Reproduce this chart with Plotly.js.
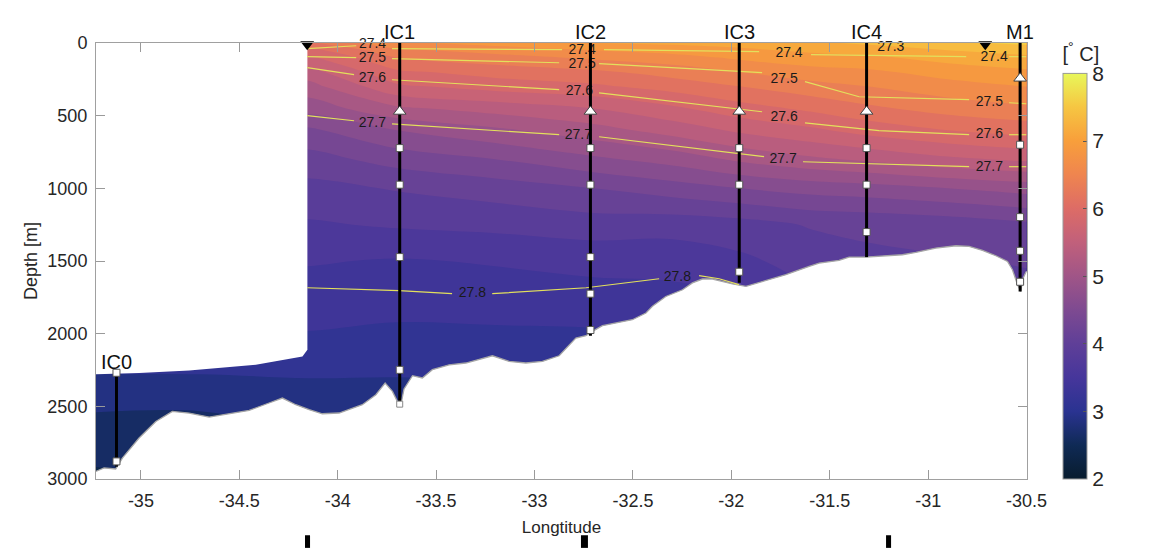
<!DOCTYPE html>
<html><head><meta charset="utf-8">
<script src="https://cdn.plot.ly/plotly-3.0.1.min.js"></script>
<style>html,body{margin:0;padding:0;background:#fff;}#chart{width:1152px;height:548px;}</style>
</head><body><div id="chart"></div>
<script>
// ---- temperature section (°C) ----
const lonGrid = [-35.23, -34.7, -34.15, -33.7, -33.2, -32.7, -32.3, -31.95, -31.6, -31.3, -30.9, -30.5];
const depthGrid = [0, 50, 100, 200, 300, 450, 600, 800, 1000, 1250, 1500, 1750, 2000, 2250, 2500, 2750, 3000];
const tempGrid = [
  [6.2, 6.2, 6.2, 6.7, 6.85, 7.0, 7.05, 7.1, 7.2, 7.3, 7.45, 7.55],
  [5.9, 5.9, 5.9, 6.45, 6.6, 6.75, 6.85, 6.95, 7.05, 7.1, 7.25, 7.35],
  [5.7, 5.7, 5.7, 6.25, 6.4, 6.55, 6.65, 6.8, 6.9, 6.95, 7.1, 7.2],
  [5.4, 5.4, 5.4, 5.95, 6.1, 6.2, 6.35, 6.5, 6.65, 6.7, 6.85, 6.95],
  [5.15, 5.15, 5.15, 5.7, 5.85, 5.95, 6.1, 6.25, 6.4, 6.5, 6.65, 6.75],
  [4.85, 4.85, 4.85, 5.2, 5.35, 5.5, 5.7, 5.9, 6.05, 6.2, 6.35, 6.45],
  [4.45, 4.45, 4.45, 4.75, 4.95, 5.15, 5.35, 5.55, 5.7, 5.85, 6.0, 6.1],
  [4.15, 4.15, 4.15, 4.35, 4.5, 4.7, 4.85, 5.05, 5.2, 5.3, 5.45, 5.55],
  [3.92, 3.92, 3.92, 4.02, 4.12, 4.25, 4.38, 4.5, 4.6, 4.65, 4.75, 4.85],
  [3.72, 3.72, 3.72, 3.78, 3.82, 3.88, 3.85, 3.9, 4.02, 4.05, 4.1, 4.2],
  [3.52, 3.52, 3.52, 3.48, 3.52, 3.58, 3.6, 3.7, 3.85, 3.95, 3.98, 4.02],
  [3.38, 3.38, 3.38, 3.36, 3.38, 3.4, 3.42, 3.5, 3.7, 3.85, 3.9, 3.92],
  [3.24, 3.24, 3.24, 3.2, 3.21, 3.22, 3.25, 3.3, 3.5, 3.7, 3.8, 3.85],
  [3.03, 3.03, 3.05, 3.04, 3.05, 3.05, 3.08, 3.1, 3.3, 3.5, 3.6, 3.7],
  [2.78, 2.77, 2.83, 2.84, 2.88, 2.9, 2.9, 2.95, 3.1, 3.3, 3.4, 3.5],
  [2.6, 2.62, 2.7, 2.72, 2.78, 2.8, 2.8, 2.85, 2.95, 3.1, 3.2, 3.3],
  [2.45, 2.5, 2.6, 2.65, 2.7, 2.7, 2.7, 2.75, 2.85, 2.95, 3.0, 3.1]
];

// ---- bathymetry (m) ----
const bathyLon = [-35.229,-35.187,-35.128,-35.094,-35.009,-34.924,-34.840,-34.755,-34.653,-34.586,-34.450,-34.349,-34.281,-34.213,-34.145,-34.078,-33.993,-33.875,-33.806,-33.759,-33.722,-33.697,-33.679,-33.663,-33.620,-33.570,-33.519,-33.434,-33.349,-33.214,-33.129,-33.044,-32.960,-32.875,-32.790,-32.739,-32.706,-32.655,-32.587,-32.503,-32.434,-32.401,-32.333,-32.248,-32.198,-32.147,-32.096,-32.028,-31.994,-31.926,-31.842,-31.723,-31.605,-31.554,-31.453,-31.402,-31.317,-31.232,-31.131,-31.063,-30.961,-30.859,-30.792,-30.724,-30.656,-30.597,-30.572,-30.546,-30.529,-30.521,-30.502];
const bathyDepth = [2948,2924,2931,2856,2718,2604,2535,2546,2574,2558,2528,2477,2443,2489,2523,2551,2546,2489,2420,2340,2397,2466,2489,2380,2289,2305,2248,2214,2202,2152,2191,2202,2191,2152,2030,2014,1984,1945,1927,1904,1858,1812,1744,1698,1651,1624,1624,1647,1658,1675,1640,1594,1537,1514,1496,1473,1473,1464,1457,1441,1411,1395,1400,1427,1464,1503,1560,1663,1709,1629,1572];

// ---- no-data region (west, upper) ----
const gapLon = [-35.3, -34.154, -34.154, -34.179, -34.416, -34.755, -35.009, -35.229, -35.3];
const gapDepth = [-80, -80, 2110, 2157, 2214, 2253, 2271, 2282, 2282];

// ---- isopycnals (kg m^-3 - 1000) ----
const iso274Lon = [-34.155,-33.906,null,-33.724,-32.86,null,-32.647,-31.859,null,-31.595,-30.807,null,-30.589,-30.502];
const iso274Depth = [39,19,null,39,46,null,46,60,null,80,94,null,94,94];
const iso275Lon = [-34.155,-33.906,null,-33.724,-32.875,null,-32.672,-31.844,null,-31.626,-31.351,-30.792,null,-30.589,-30.502];
const iso275Depth = [94,101,null,108,136,null,142,204,null,266,370,390,null,411,418];
const iso276Lon = [-34.155,-33.917,null,-33.724,-32.875,null,-32.672,-31.844,null,-31.626,-31.25,-30.792,null,-30.589,-30.502];
const iso276Depth = [170,218,null,253,321,null,343,473,null,549,603,631,null,631,631];
const iso277Lon = [-34.155,-33.917,null,-33.724,-32.875,null,-32.672,-31.834,null,-31.636,-30.792,null,-30.589,-30.502];
const iso277Depth = [500,535,null,556,631,null,645,782,null,817,851,null,851,851];
const iso278Lon = [-34.155,-33.688,-33.419,null,-33.215,-32.738,-32.367,null,-32.164,-32.062,-31.961];
const iso278Depth = [1684,1704,1725,null,1725,1684,1622,null,1601,1622,1663];
const isoLabelText = ['27.4','27.4','27.4','27.4','27.3','27.5','27.5','27.5','27.5','27.6','27.6','27.6','27.6','27.7','27.7','27.7','27.7','27.8','27.8'];
const isoLabelLon = [-33.823,-32.758,-31.707,-30.665,-31.19,-33.824,-32.758,-31.732,-30.689,-33.824,-32.772,-31.732,-30.689,-33.824,-32.777,-31.737,-30.689,-33.316,-32.274];
const isoLabelDepth = [12,53,74,101,32,110,150,253,409,246,337,516,631,551,638,803,860,1727,1613];

// ---- moorings ----
const mooringNames = ['IC0','IC1','IC2','IC3','IC4','M1'];
const mooringLon = [-35.124,-33.685,-32.716,-31.96,-31.313,-30.533];
const mooringTop = [2269,0,0,0,0,0];
const mooringBottom = [2915,2490,2015,1650,1473,1710];
const triLon = [-33.685,-32.716,-31.96,-31.313,-30.533];
const triDepth = [471,471,471,471,243];
const sqLon = [-35.124,-35.124,-33.685,-33.685,-33.685,-33.685,-32.716,-32.716,-32.716,-32.716,-32.716,-31.96,-31.96,-31.96,-31.313,-31.313,-31.313,-30.533,-30.533,-30.533,-30.533];
const sqDepth = [2269,2879,723,975,1473,2249,723,975,1473,1725,1975,723,975,1574,723,975,1301,700,1198,1430,1643];
const stationLon = [-34.155,-30.71];
const stationDepth = [8,8];

const xTicks = [-35,-34.5,-34,-33.5,-33,-32.5,-32,-31.5,-31,-30.5];
const xTickText = ['-35','-34.5','-34','-33.5','-33','-32.5','-32','-31.5','-31','-30.5'];
const yTicks = [0,500,1000,1500,2000,2500,3000];
const cbTicks = [2,3,4,5,6,7,8];

const thermal = [
  [0.0,'#081c2e'],[0.0833,'#0f2a55'],[0.1667,'#2a3391'],[0.25,'#46369b'],[0.3333,'#5f3f98'],
  [0.4167,'#7e4a91'],[0.5,'#a05587'],[0.5833,'#c1607b'],[0.6667,'#dd6c66'],[0.75,'#ef854f'],
  [0.8333,'#f89f3b'],[0.9167,'#f6c642'],[1.0,'#e8f85a']
];

const FONT = 'Liberation Sans, Arial, Helvetica, sans-serif';
const traces = [];
traces.push({type:'contour', x:lonGrid, y:depthGrid, z:tempGrid, zmin:2, zmax:8,
  colorscale:thermal, showscale:false, hoverinfo:'skip',
  contours:{start:2, end:8, size:0.25, coloring:'fill', showlines:false}, line:{width:0}});
traces.push({type:'scatter', x:gapLon, y:gapDepth, mode:'lines', fill:'toself', fillcolor:'#ffffff',
  line:{width:0, color:'#ffffff'}, hoverinfo:'skip', showlegend:false});
const bFillLon = bathyLon.concat([-30.45, -30.45, -35.3, -35.3]);
const bFillDepth = bathyDepth.concat([1572, 3200, 3200, 2948]);
traces.push({type:'scatter', x:bFillLon, y:bFillDepth, mode:'lines', fill:'toself', fillcolor:'#ffffff',
  line:{width:0, color:'#ffffff'}, hoverinfo:'skip', showlegend:false});
traces.push({type:'scatter', x:bathyLon, y:bathyDepth, mode:'lines', line:{width:1.3, color:'#a6a6a6'},
  hoverinfo:'skip', showlegend:false});
[[iso274Lon,iso274Depth],[iso275Lon,iso275Depth],[iso276Lon,iso276Depth],[iso277Lon,iso277Depth],[iso278Lon,iso278Depth]].forEach(function(p){
  traces.push({type:'scatter', x:p[0], y:p[1], mode:'lines', connectgaps:false,
    line:{width:1.2, color:'#e3e05c'}, hoverinfo:'skip', showlegend:false});
});
traces.push({type:'scatter', x:isoLabelLon, y:isoLabelDepth, mode:'text', text:isoLabelText,
  textfont:{family:FONT, size:14, color:'#1a1a1a'}, cliponaxis:false, hoverinfo:'skip', showlegend:false});
mooringNames.forEach(function(n,i){
  traces.push({type:'scatter', x:[mooringLon[i],mooringLon[i]], y:[mooringTop[i],mooringBottom[i]], mode:'lines',
    line:{width:3, color:'#000000'}, hoverinfo:'skip', showlegend:false});
});
traces.push({type:'scatter', x:sqLon, y:sqDepth, mode:'markers',
  marker:{symbol:'square', size:7, color:'#ffffff', line:{width:1, color:'#555555'}}, hoverinfo:'skip', showlegend:false});
traces.push({type:'scatter', x:[-33.685], y:[2485], mode:'markers',
  marker:{symbol:'square', size:6, color:'#ffffff', line:{width:1, color:'#888888'}}, hoverinfo:'skip', showlegend:false});
traces.push({type:'scatter', x:triLon, y:triDepth, mode:'markers',
  marker:{symbol:'triangle-up', size:11, color:'#ffffff', line:{width:1, color:'#444444'}}, hoverinfo:'skip', showlegend:false});
traces.push({type:'scatter', x:stationLon, y:stationDepth, mode:'markers', cliponaxis:false,
  marker:{symbol:'triangle-down', size:12, color:'#000000'}, hoverinfo:'skip', showlegend:false});
traces.push({type:'scatter', x:[-40], y:[1500], mode:'markers', hoverinfo:'skip', showlegend:false,
  marker:{size:1, color:[5], cmin:2, cmax:8, colorscale:thermal, showscale:true,
    colorbar:{x:1.0387, xanchor:'left', y:0.5, yanchor:'middle', len:1, lenmode:'fraction', thickness:24,
      xpad:0, ypad:0, outlinecolor:'#999999', outlinewidth:1, tickvals:cbTicks, ticks:'inside', ticklen:4,
      tickcolor:'#555555', tickfont:{family:FONT, size:21, color:'#262626'},
      title:{text:'[<sup>°</sup> C]', side:'top', font:{family:FONT, size:20, color:'#262626'}}}}});

const annotations = mooringNames.map(function(n,i){
  return {x:mooringLon[i], y:mooringTop[i], xref:'x', yref:'y', text:n, showarrow:false,
    xanchor:'center', yanchor:'bottom', yshift:-2, font:{family:FONT, size:20, color:'#111111'}};
});

// partial glyphs of the next figure row, cut by the bottom edge
const cutMarkX0 = [0.2245, 0.5209, 0.8486];
const cutMarkX1 = [0.2299, 0.5284, 0.8540];
const shapes = cutMarkX0.map(function(v,i){
  return {type:'rect', xref:'paper', yref:'paper', x0:v, x1:cutMarkX1[i], y0:-0.158, y1:-0.129,
    fillcolor:'#000000', line:{width:0}, layer:'above'};
});

const layout = {
  width:1152, height:548, margin:{l:96, r:125, t:43, b:69}, paper_bgcolor:'#ffffff', plot_bgcolor:'#ffffff',
  showlegend:false, annotations:annotations, shapes:shapes,
  xaxis:{range:[-35.228,-30.498], tickvals:xTicks, ticktext:xTickText, ticks:'inside', ticklen:9, tickwidth:1,
    tickcolor:'#9a9a9a', showline:true, linecolor:'#a0a0a0', linewidth:1, mirror:'ticks', showgrid:false, zeroline:false,
    tickfont:{family:FONT, size:18, color:'#262626'}, ticklabelstandoff:5,
    title:{text:'Longtitude', font:{family:FONT, size:17, color:'#262626'}, standoff:11}},
  yaxis:{range:[3000,0], tickvals:yTicks, ticks:'inside', ticklen:9, tickwidth:1,
    tickcolor:'#9a9a9a', showline:true, linecolor:'#a0a0a0', linewidth:1, mirror:'ticks', showgrid:false, zeroline:false,
    tickfont:{family:FONT, size:18, color:'#262626'}, ticklabelstandoff:4,
    title:{text:'Depth [m]', font:{family:FONT, size:18, color:'#262626'}, standoff:5}}
};
Plotly.newPlot('chart', traces, layout, {displayModeBar:false, staticPlot:true});
</script></body></html>
